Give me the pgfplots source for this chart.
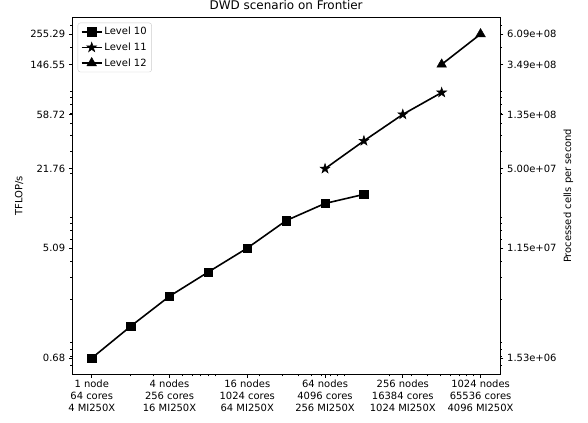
\documentclass[border=0pt]{standalone}
\usepackage{pgfplots}
\pgfplotsset{compat=1.18}
\usepackage{fontspec}
\setmainfont{DejaVu Sans}
\usetikzlibrary{calc}
\pgfdeclareplotmark{fstar}{%
  \pgfpathmoveto{\pgfpointpolar{90}{\pgfplotmarksize}}%
  \pgfpathlineto{\pgfpointpolar{126}{0.382\pgfplotmarksize}}%
  \pgfpathlineto{\pgfpointpolar{162}{\pgfplotmarksize}}%
  \pgfpathlineto{\pgfpointpolar{198}{0.382\pgfplotmarksize}}%
  \pgfpathlineto{\pgfpointpolar{234}{\pgfplotmarksize}}%
  \pgfpathlineto{\pgfpointpolar{270}{0.382\pgfplotmarksize}}%
  \pgfpathlineto{\pgfpointpolar{306}{\pgfplotmarksize}}%
  \pgfpathlineto{\pgfpointpolar{342}{0.382\pgfplotmarksize}}%
  \pgfpathlineto{\pgfpointpolar{18}{\pgfplotmarksize}}%
  \pgfpathlineto{\pgfpointpolar{54}{0.382\pgfplotmarksize}}%
  \pgfpathclose
  \pgfusepathqfillstroke}
\begin{document}
\begin{tikzpicture}
\begin{axis}[name=ax,
  scale only axis, width=427.7bp, height=357bp,
  at={(0,0)}, anchor=south west,
  xmode=log, ymode=log,
  xmin=0.70711, xmax=1448.15, ymin=0.506, ymax=347,
  ytick={0.68,5.09,21.76,58.72,146.55,255.29},
  minor ytick={0.6,0.7,0.8,0.9,2,3,4,6,7,8,9,20,30,40,50,60,70,80,90,200,300},
  tick align=outside, major tick length=3.5bp, minor tick length=2bp,
  tick style={black, line width=0.8bp},
  axis line style={line width=0.8bp},
  tick label style={font=\fontsize{10}{12}\selectfont},
  label style={font=\fontsize{10}{12}\selectfont},
  xtick={1,4,16,64,256,1024},
  xticklabels={{1 node\\64 cores\\4 MI250X},{4 nodes\\256 cores\\16 MI250X},{16 nodes\\1024 cores\\64 MI250X},{64 nodes\\4096 cores\\256 MI250X},{256 nodes\\16384 cores\\1024 MI250X},{1024 nodes\\65536 cores\\4096 MI250X}},
  xticklabel style={align=center, inner ysep=2bp},
  minor xtick={2,3,5,6,7,8,9,20,30,40,50,60,70,80,90,200,300,400,500,600,700,800,900},
  yticklabels={0.68,5.09,21.76,58.72,146.55,255.29},
  yticklabel style={anchor=east, inner xsep=3.5bp},
  xtick pos=bottom, ytick pos=left,
  title={DWD scenario on Frontier},
  title style={font=\fontsize{12}{14}\selectfont, yshift=-2bp},
  ylabel={TFLOP/s},
  legend style={at={(0,1)}, xshift=5.4bp, yshift=-5.4bp, anchor=north west,
    draw=black!20, rounded corners=2.5bp, fill=white,
    font=\fontsize{10}{12}\selectfont, row sep=2.5bp, inner xsep=3bp, inner ysep=2.5bp},
  legend cell align=left,
  legend image code/.code={%
    \draw[#1] (0bp,0bp) -- (20bp,0bp);
    \draw[#1, sharp plot] plot coordinates {(10bp,0bp)};},
]
\addplot[black, line width=1.6bp, mark=square*, mark size=4.2bp, mark options={line width=0.5bp}] coordinates {
  (1,0.68) (2,1.217) (4,2.11) (8,3.29) (16,5.09) (32,8.42) (64,11.52) (128,13.6)};
\addlegendentry{Level 10}
\addplot[black, line width=1.6bp, mark=fstar, mark size=5.2bp, mark options={line width=0.5bp}] coordinates {
  (64,21.76) (128,36.2) (256,58.72) (512,87.6)};
\addlegendentry{Level 11}
\addplot[black, line width=1.6bp, mark=triangle*, mark size=5.5bp, mark options={line width=0.5bp}] coordinates {
  (512,146.55) (1024,255.29)};
\addlegendentry{Level 12}
\end{axis}
\begin{axis}[
  scale only axis, width=427.7bp, height=357bp,
  at={(0,0)}, anchor=south west,
  xmode=log, ymode=log,
  xmin=0.70711, xmax=1448.15, ymin=0.506, ymax=347,
  ytick={0.68,5.09,21.76,58.72,146.55,255.29},
  minor ytick={0.6,0.7,0.8,0.9,2,3,4,6,7,8,9,20,30,40,50,60,70,80,90,200,300},
  tick align=outside, major tick length=3.5bp, minor tick length=2bp,
  tick style={black, line width=0.8bp},
  axis line style={line width=0.8bp},
  tick label style={font=\fontsize{10}{12}\selectfont},
  label style={font=\fontsize{10}{12}\selectfont},
  axis x line=none, axis y line*=right,
  yticklabels={1.53e+06,1.15e+07,5.00e+07,1.35e+08,3.49e+08,6.09e+08},
  yticklabel style={anchor=west, inner xsep=3.5bp},
  ylabel={Processed cells per second},
]
\addplot[draw=none] coordinates {(1,0.68)};
\end{axis}
\pgfresetboundingbox
\path[use as bounding box] ($(ax.south west)+(-72.3bp,-48.7bp)$) rectangle ($(ax.south west)+(515.7bp,374.3bp)$);
\end{tikzpicture}
\end{document}
